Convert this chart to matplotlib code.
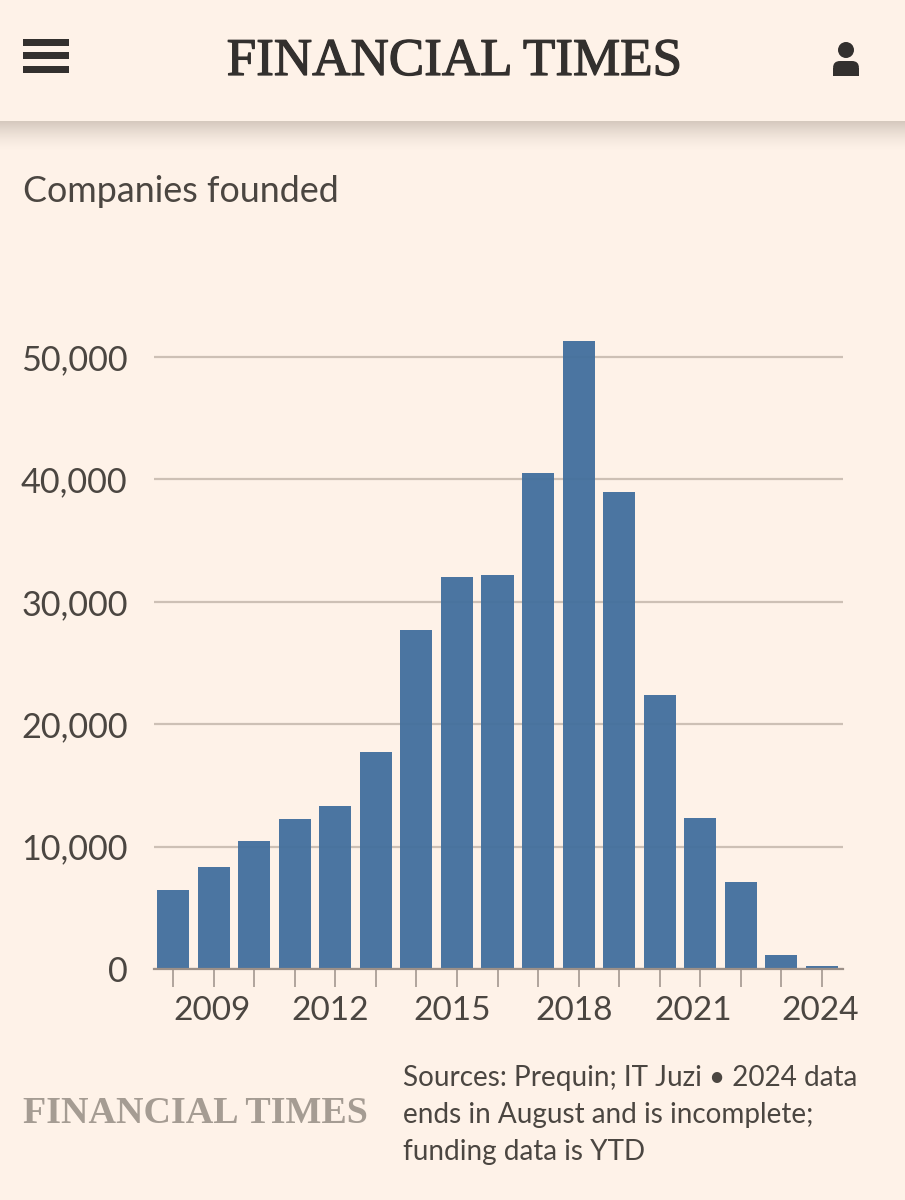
import matplotlib
matplotlib.use("Agg")
import matplotlib.pyplot as plt
import matplotlib.patheffects as pe
from matplotlib.patches import Rectangle, Ellipse, FancyBboxPatch
import numpy as np

years = [2008, 2009, 2010, 2011, 2012, 2013, 2014, 2015, 2016,
         2017, 2018, 2019, 2020, 2021, 2022, 2023, 2024]
companies = [6450, 8300, 10450, 12250, 13300, 17700, 27700, 32000, 32200,
             40500, 51300, 39000, 22400, 12300, 7100, 1150, 250]
yticks = [0, 10000, 20000, 30000, 40000, 50000]
labelled_years = [2009, 2012, 2015, 2018, 2021, 2024]
# the labels sit a little left of their ticks in the original
label_shift = [-1, -5, -5, -5, -7, -2]

BG = "#fef2e8"
INK = "#33302e"
TEXT = "#4b4641"
BAR = "#44709e"
GRID = "#cdc0b5"
AXIS = "#9c9088"

W, H = 905, 1200
fig = plt.figure(figsize=(W / 100, H / 100), dpi=100, facecolor=BG)

# pixel space overlay for the page furniture
page = fig.add_axes([0, 0, 1, 1], zorder=0)
page.set_xlim(0, W)
page.set_ylim(H, 0)
page.axis("off")

# header shadow
shadow = np.linspace(0.42, 0, 32).reshape(-1, 1) ** 1.6
rgba = np.zeros((32, 1, 4))
rgba[..., 0] = 0.35
rgba[..., 1] = 0.30
rgba[..., 2] = 0.25
rgba[..., 3] = shadow
page.imshow(rgba, extent=[0, W, 153, 121], aspect="auto", zorder=1)
page.set_xlim(0, W)
page.set_ylim(H, 0)

# hamburger
for top in [38.5, 52, 66]:
    page.add_patch(Rectangle((23, top), 46, 7, color=INK, lw=0))

# user icon
page.add_patch(Ellipse((846, 50), 16, 16, color=INK, lw=0))
page.add_patch(FancyBboxPatch((833, 61), 26, 12, boxstyle="round,pad=0,rounding_size=7",
                              color=INK, lw=0))
page.add_patch(Rectangle((833, 68), 26, 8, color=INK, lw=0))

page.text(454, 75, "FINANCIAL TIMES", family="Liberation Serif", fontsize=38.2,
          color=INK, ha="center", va="baseline",
          path_effects=[pe.withStroke(linewidth=0.9, foreground=INK)])
page.text(23, 191, "Companies founded", family="Lato", fontsize=25.8,
          color=TEXT, ha="left", va="center")
page.text(23, 1123, "FINANCIAL TIMES", family="Liberation Serif", fontsize=27.4,
          color="#a59c93", ha="left", va="baseline", weight="bold")

for y, line in zip([1078, 1115, 1152],
                   ["Sources: Prequin; IT Juzi • 2024 data",
                    "ends in August and is incomplete;",
                    "funding data is YTD"]):
    page.text(403, y, line, family="Lato", fontsize=20.1, color=TEXT,
              ha="left", va="center")

# chart: x 154-843 px, baseline at 969 px, 50,000 at 357 px
px_per_year = 40.6
left, right, base, top = 154, 843, 969, 300
ax = fig.add_axes([left / W, 1 - base / H, (right - left) / W, (base - top) / H],
                  zorder=2)
ax.patch.set_alpha(0)
ax.set_xlim(2008 - (173 - left) / px_per_year, 2024 + (right - 822) / px_per_year)
ax.set_ylim(0, (base - top) / (612 / 50000))

ax.bar(years, companies, width=0.79, color=BAR, alpha=0.96, linewidth=0, zorder=3)

for s in ["top", "right", "left"]:
    ax.spines[s].set_visible(False)
ax.spines["bottom"].set_color(AXIS)
ax.spines["bottom"].set_linewidth(1.6)
ax.spines["bottom"].set_zorder(4)

ax.set_yticks(yticks)
ax.set_yticklabels([f"{v:,}" for v in yticks], family="Lato", fontsize=24.6, color=TEXT)
ax.tick_params(axis="y", length=0, pad=19)
ax.grid(axis="y", color=GRID, linewidth=1.6, zorder=1)
ax.set_axisbelow(True)

ax.set_xticks(years)
ax.set_xticklabels([])
ax.tick_params(axis="x", length=13, width=1.1, color=AXIS)

for yr, dx in zip(labelled_years, label_shift):
    ax.annotate(str(yr), xy=(yr, 0), xycoords="data", xytext=(dx * 0.72, -30.5),
                textcoords="offset points", ha="center", va="center",
                family="Lato", fontsize=24, color=TEXT, annotation_clip=False)

fig.savefig("out.png", dpi=100, facecolor=BG)
